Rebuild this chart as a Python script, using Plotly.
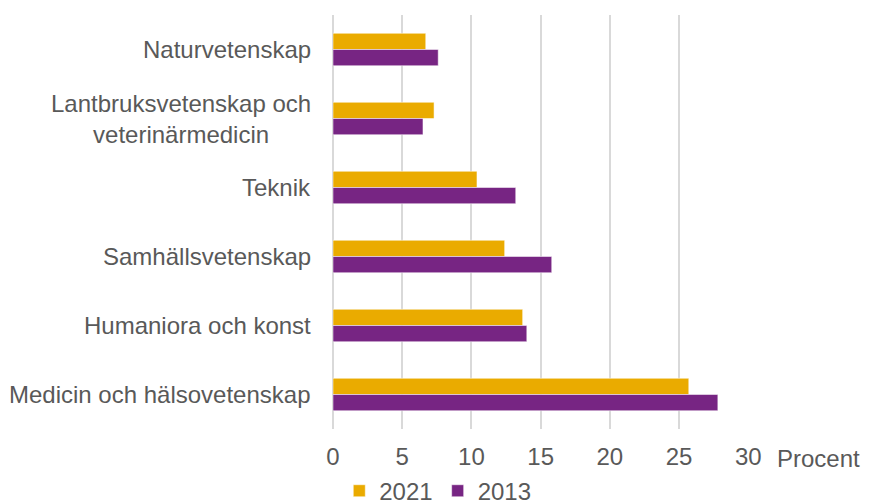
import plotly.graph_objects as go

categories = ['Naturvetenskap', 'Lantbruksvetenskap och<br>veterinärmedicin', 'Teknik',
              'Samhällsvetenskap', 'Humaniora och konst', 'Medicin och hälsovetenskap']
values_2021 = [6.7, 7.3, 10.4, 12.4, 13.7, 25.7]
values_2013 = [7.6, 6.5, 13.2, 15.8, 14.0, 27.8]
x_ticks = [0, 5, 10, 15, 20, 25, 30]

text_color = '#595959'
font_family = 'Liberation Sans'

fig = go.Figure()
fig.add_trace(go.Bar(y=categories, x=values_2021, name='2021', orientation='h',
                     marker=dict(color='#EAAB00', line=dict(color='rgba(255,255,255,0.5)', width=1))))
fig.add_trace(go.Bar(y=categories, x=values_2013, name='2013', orientation='h',
                     marker=dict(color='#772583', line=dict(color='rgba(255,255,255,0.5)', width=1))))

# category labels as annotations so the two-line label can be centred
for cat in categories:
    fig.add_annotation(x=0, xref='paper', xanchor='right', xshift=-20,
                       y=cat, yref='y', yanchor='middle',
                       text=cat, showarrow=False, align='center',
                       font=dict(size=24, color=text_color, family=font_family))

fig.add_annotation(x=1, xref='paper', xanchor='left', xshift=26,
                   y=0, yref='paper', yanchor='middle', yshift=-29,
                   text='Procent', showarrow=False,
                   font=dict(size=24, color=text_color, family=font_family))

# page body adds an 8px offset, so the figure is a little smaller than the window
fig.update_layout(
    width=863, height=492,
    margin=dict(l=325, r=122, t=7, b=71, autoexpand=False),
    plot_bgcolor='white', paper_bgcolor='white',
    barmode='group', bargap=0.53, bargroupgap=0,
    font=dict(family=font_family, size=24, color=text_color),
    legend=dict(orientation='h', xref='container', yref='container',
                x=0.498, xanchor='center', y=0.018, yanchor='middle',
                font=dict(size=24, color=text_color, family=font_family), itemwidth=30),
    showlegend=True,
)
fig.update_xaxes(range=[0, 30.05], tickvals=x_ticks, showgrid=True, gridcolor='#D9D9D9', gridwidth=2,
                 zeroline=True, zerolinecolor='#D9D9D9', zerolinewidth=2, showline=False,
                 ticklabelstandoff=11,
                 tickfont=dict(size=24, color=text_color, family=font_family))
fig.update_yaxes(autorange='reversed', showticklabels=False, showgrid=False, showline=False,
                 categoryorder='array', categoryarray=categories)

fig.write_html("out.html")
